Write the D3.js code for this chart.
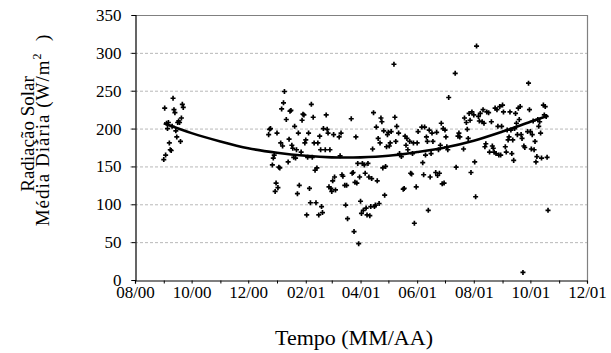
<!DOCTYPE html>
<html><head><meta charset="utf-8">
<script src="https://cdn.jsdelivr.net/npm/d3@7/dist/d3.min.js"></script>
<style>
  body { margin: 0; background: #fff; }
  svg text { font-family: "Liberation Serif", "Times New Roman", serif; fill: #000; }
</style>
</head><body>
<svg id="chart" width="611" height="353"></svg>
<script>
// Daily mean solar radiation (W/m²), station record Sep 2000 – Oct 2001
const obsDates = [
  "2000-09-01","2000-09-02","2000-09-03","2000-09-04","2000-09-05","2000-09-06","2000-09-07","2000-09-08",
  "2000-09-09","2000-09-10","2000-09-11","2000-09-12","2000-09-13","2000-09-14","2000-09-15","2000-09-16",
  "2000-09-17","2000-09-18","2000-09-19","2000-09-20","2000-09-21","2000-09-22",
  "2000-12-23","2000-12-24","2000-12-25","2000-12-27","2000-12-28","2000-12-29","2000-12-30","2000-12-31",
  "2001-01-01","2001-01-02","2001-01-03","2001-01-04","2001-01-05","2001-01-06","2001-01-07","2001-01-08",
  "2001-01-09","2001-01-11","2001-01-13","2001-01-14","2001-01-15","2001-01-16","2001-01-17","2001-01-18",
  "2001-01-19","2001-01-20","2001-01-21","2001-01-22","2001-01-23","2001-01-24","2001-01-25","2001-01-27",
  "2001-01-28","2001-01-29","2001-01-30","2001-01-31",
  "2001-02-01","2001-02-02","2001-02-03","2001-02-04","2001-02-05","2001-02-06","2001-02-07","2001-02-08",
  "2001-02-09","2001-02-10","2001-02-11","2001-02-12","2001-02-13","2001-02-14","2001-02-15","2001-02-16",
  "2001-02-17","2001-02-18","2001-02-19","2001-02-20","2001-02-22","2001-02-23","2001-02-24","2001-02-25",
  "2001-02-26","2001-02-27","2001-02-28",
  "2001-03-01","2001-03-02","2001-03-03","2001-03-04","2001-03-05","2001-03-09","2001-03-10","2001-03-11",
  "2001-03-12","2001-03-13","2001-03-15","2001-03-16","2001-03-17","2001-03-18","2001-03-22","2001-03-23",
  "2001-03-24","2001-03-25","2001-03-26","2001-03-27","2001-03-28","2001-03-29","2001-03-30","2001-03-31",
  "2001-04-01","2001-04-02","2001-04-03","2001-04-04","2001-04-05","2001-04-06","2001-04-07","2001-04-08",
  "2001-04-09","2001-04-10","2001-04-11","2001-04-12","2001-04-13","2001-04-14","2001-04-15","2001-04-16",
  "2001-04-17","2001-04-18","2001-04-19","2001-04-20","2001-04-21","2001-04-22","2001-04-23","2001-04-24",
  "2001-04-25","2001-04-26","2001-04-27","2001-04-28","2001-04-29","2001-04-30",
  "2001-05-01","2001-05-02","2001-05-03","2001-05-04","2001-05-07","2001-05-08","2001-05-09","2001-05-10",
  "2001-05-12","2001-05-13","2001-05-15","2001-05-17","2001-05-18","2001-05-19","2001-05-20","2001-05-21",
  "2001-05-22","2001-05-24","2001-05-25","2001-05-26","2001-05-27","2001-05-28","2001-05-29","2001-05-31",
  "2001-06-01","2001-06-02","2001-06-06","2001-06-07","2001-06-08","2001-06-09","2001-06-10","2001-06-11",
  "2001-06-12","2001-06-13","2001-06-14","2001-06-15","2001-06-16","2001-06-17","2001-06-18","2001-06-21",
  "2001-06-22","2001-06-23","2001-06-24","2001-06-25","2001-06-26","2001-06-27","2001-06-28","2001-06-29",
  "2001-06-30",
  "2001-07-01","2001-07-02","2001-07-03","2001-07-04","2001-07-05","2001-07-12","2001-07-13","2001-07-15",
  "2001-07-16","2001-07-17","2001-07-21","2001-07-22","2001-07-24","2001-07-25","2001-07-26","2001-07-27",
  "2001-07-28","2001-07-29","2001-07-30",
  "2001-08-01","2001-08-02","2001-08-03","2001-08-04","2001-08-06","2001-08-07","2001-08-08","2001-08-10",
  "2001-08-11","2001-08-12","2001-08-13","2001-08-14","2001-08-15","2001-08-17","2001-08-18","2001-08-20",
  "2001-08-21","2001-08-22","2001-08-23","2001-08-24","2001-08-25","2001-08-26","2001-08-27","2001-08-28",
  "2001-08-29","2001-08-30","2001-08-31",
  "2001-09-01","2001-09-02","2001-09-04","2001-09-05","2001-09-06","2001-09-07","2001-09-08","2001-09-09",
  "2001-09-10","2001-09-11","2001-09-12","2001-09-13","2001-09-14","2001-09-15","2001-09-16","2001-09-17",
  "2001-09-18","2001-09-19","2001-09-20","2001-09-21","2001-09-22","2001-09-23","2001-09-24","2001-09-25",
  "2001-09-28","2001-09-29","2001-09-30",
  "2001-10-01","2001-10-02","2001-10-03","2001-10-04","2001-10-05","2001-10-06","2001-10-07","2001-10-08",
  "2001-10-09","2001-10-10","2001-10-11","2001-10-12","2001-10-13","2001-10-15","2001-10-16","2001-10-17",
  "2001-10-18","2001-10-19","2001-10-20"
];
const radiation = [
  159,227,165,207,200,208,181,172, 171,203,240,225,221,197,189,208, 210,208,183,214,232,228,
  192,199,200,152,161,165,117,128,
  194,122,149,148,181,226,177,234, 249,212,156,186,223,224,178,174, 162,203,161,172,114,194,125,169,
  211,219,218,181,
  185,86,162,194,121,102,232,162, 215,181,145,102,148,181,86,190, 172,97,89,200,172,218,199,194,
  123,172,121,
  117,131,192,136,119,189,164,194, 139,137,125,99,125,81,213,141, 142,64,129,189,128,154,48,136,
  104,88,154,92,152,141,95,86, 154,136,85,97,134,173,221,97, 99,202,131,187,101,181,214,209,
  148,197,112,150,176,192,
  195,177,181,196,285,215,183,203, 194,167,163,120,121,190,178,187, 172,183,141,140,167,181,75,123,
  181,196,202,155,139,202,165,189, 183,92,198,136,167,194,183,142, 195,138,172,141,178,207,127,200,
  128,
  198,189,176,172,241,273,149,190, 194,189,173,214,208,199,187,220, 211,142,222,
  218,156,110,309,216,210,220,209, 225,207,176,180,222,221,169,209, 177,174,169,227,167,225,203,165,
  229,165,203,
  231,222,176,169,198,185,189,222, 198,167,185,158,200,220,207,192, 227,212,229,192,187,10,177,175,
  196,260,225,
  196,173,192,210,172,183,156,163, 212,203,209,194,161,231,218,229, 216,162,92
];

// Second-order polynomial trend, sampled monthly
const trendDates = ["2000-09-01","2000-10-01","2000-11-01","2000-12-01","2001-01-01","2001-02-01","2001-03-01",
  "2001-04-01","2001-05-01","2001-06-01","2001-07-01","2001-08-01","2001-09-01","2001-10-01","2001-10-20"];
const trendValues = [207,194,183,174,168,164,162,162,164,169,175,184,196,209,217];

const yTicks = [0, 50, 100, 150, 200, 250, 300, 350];
const xLabelDates = ["2000-08-01","2000-10-01","2000-12-01","2001-02-01","2001-04-01",
  "2001-06-01","2001-08-01","2001-10-01","2001-12-01"];

const parse = d3.timeParse("%Y-%m-%d");
const points = obsDates.map((d, i) => ({ date: parse(d), value: radiation[i] }));
const trend = trendDates.map((d, i) => ({ date: parse(d), value: trendValues[i] }));

const svg = d3.select("#chart");
const plotL = 135, plotR = 587, plotT = 15, plotB = 280;
const serif = "'Liberation Serif', 'Times New Roman', serif";

const x = d3.scaleTime().domain([parse("2000-08-01"), parse("2001-12-01")]).range([plotL, plotR]);
const y = d3.scaleLinear().domain([0, 350]).range([plotB, plotT]);

// horizontal dashed gridlines
svg.append("g").selectAll("line").data(yTicks.filter(v => v > 0 && v < 350)).join("line")
  .attr("x1", plotL - 5).attr("x2", plotR)
  .attr("y1", d => y(d) + 0.5).attr("y2", d => y(d) + 0.5)
  .attr("stroke", "#b8b8b8").attr("stroke-width", 1).attr("stroke-dasharray", "3,2");

// plot frame (top and right)
svg.append("path")
  .attr("d", `M${plotL},${plotT + 0.5}H${plotR + 0.5}V${plotB}`)
  .attr("fill", "none").attr("stroke", "#808080").attr("stroke-width", 1.2);

// y axis
const yAxis = svg.append("g").attr("transform", `translate(${plotL + 0.5},0)`)
  .call(d3.axisLeft(y).tickValues(yTicks).tickSize(4).tickPadding(10).tickFormat(d3.format("d")));
yAxis.attr("font-family", serif).attr("font-size", 17);
yAxis.select(".domain").attr("stroke", "#000").attr("stroke-width", 1.2);
yAxis.selectAll(".tick line").attr("stroke", "#000");

// x axis: monthly ticks, labels every two months
const fmt = d3.timeFormat("%m/%y");
const labelSet = new Set(xLabelDates);
const xAxis = svg.append("g").attr("transform", `translate(0,${plotB + 0.5})`)
  .call(d3.axisBottom(x).ticks(d3.timeMonth.every(1)).tickSize(3).tickPadding(2)
    .tickFormat(d => labelSet.has(d3.timeFormat("%Y-%m-%d")(d)) ? fmt(d) : ""));
xAxis.attr("font-family", serif).attr("font-size", 17);
xAxis.select(".domain").attr("stroke", "#000").attr("stroke-width", 1.2);
xAxis.selectAll(".tick line").attr("stroke", "#000");

// observations
svg.append("g").selectAll("path").data(points).join("path")
  .attr("transform", d => `translate(${x(d.date)},${y(d.value)})`)
  .attr("d", d3.symbol(d3.symbolCross, 14))
  .attr("fill", "#000");

// trend curve
svg.append("path").datum(trend)
  .attr("d", d3.line().x(d => x(d.date)).y(d => y(d.value)).curve(d3.curveCatmullRom))
  .attr("fill", "none").attr("stroke", "#000").attr("stroke-width", 2.6);

// axis titles
svg.append("text").attr("x", 354).attr("y", 345).attr("text-anchor", "middle")
  .attr("font-size", 22).text("Tempo (MM/AA)");

const yTitle = svg.append("g").attr("transform", "translate(34,132) rotate(-90)");
yTitle.append("text").attr("x", -2).attr("text-anchor", "middle").attr("font-size", 19).text("Radiação Solar");
const t2 = yTitle.append("text").attr("y", 15).attr("x", 2).attr("text-anchor", "middle")
  .attr("font-size", 19).attr("letter-spacing", 1);
t2.append("tspan").text("Média Diária (W/m");
t2.append("tspan").attr("font-size", 12).attr("dy", -8).text("2");
t2.append("tspan").attr("dy", 8).attr("xml:space", "preserve").text("  )");
</script>
</body></html>
